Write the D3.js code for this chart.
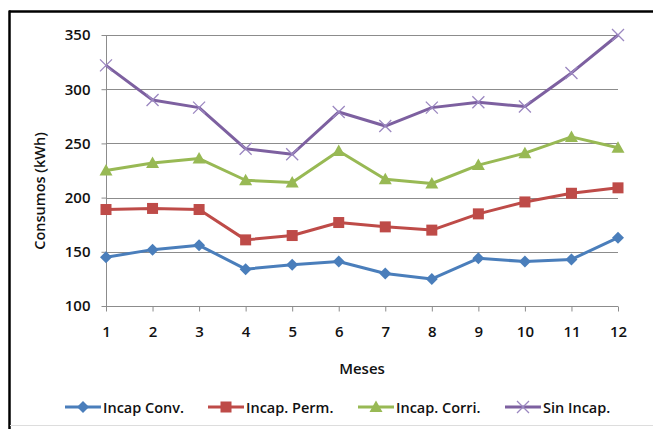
<!DOCTYPE html>
<html>
<head>
<meta charset="utf-8">
<script src="https://cdn.jsdelivr.net/npm/d3@7"></script>
<style>
  html, body { margin: 0; padding: 0; background: #fff; }
  svg { display: block; }
  text { font-family: "Open Sans", Lato, sans-serif; font-weight: 600; fill: #111; }
</style>
</head>
<body>
<svg id="chart" width="653" height="429"></svg>
<script>
// Monthly consumption (kWh) by group
const months = [1, 2, 3, 4, 5, 6, 7, 8, 9, 10, 11, 12];
const incapConv  = [145, 152, 156, 134, 138, 141, 130, 125, 144, 141, 143, 163];
const incapPerm  = [189, 190, 189, 161, 165, 177, 173, 170, 185, 196, 204, 209];
const incapCorri = [225, 232, 236, 216, 214, 243, 217, 213, 230, 241, 256, 246];
const sinIncap   = [322, 290, 283, 245, 240, 279, 266, 283, 288, 284, 315, 350];
const yTicks = [100, 150, 200, 250, 300, 350];

const seriesNames  = ["Incap Conv.", "Incap. Perm.", "Incap. Corri.", "Sin Incap."];
const seriesValues = [incapConv, incapPerm, incapCorri, sinIncap];
const seriesColors = ["#4A7EBB", "#BE4B48", "#98B954", "#7D60A0"];
const seriesMarkers = ["diamond", "square", "triangle", "cross"];

const svg = d3.select("#chart");

// frame
svg.append("line").attr("x1", 9).attr("x2", 653).attr("y1", 11.5).attr("y2", 11.5)
  .attr("stroke", "#000").attr("stroke-width", 2.5);
svg.append("line").attr("x1", 9.5).attr("x2", 9.5).attr("y1", 10.5).attr("y2", 429)
  .attr("stroke", "#000").attr("stroke-width", 2.5);
svg.append("line").attr("x1", 10).attr("x2", 653).attr("y1", 425.5).attr("y2", 425.5)
  .attr("stroke", "#ddd").attr("stroke-width", 1);

const x = d3.scalePoint().domain(months).range([106, 618]);
const y = d3.scaleLinear().domain([100, 350]).range([306, 35]);

// gridlines
svg.append("g").selectAll("line").data(yTicks.filter(d => d > 100)).join("line")
  .attr("x1", 106).attr("x2", 618)
  .attr("y1", d => Math.round(y(d)) + 0.5).attr("y2", d => Math.round(y(d)) + 0.5)
  .attr("stroke", "#8c8c8c").attr("stroke-width", 1);

// y axis
const yAxis = svg.append("g").attr("transform", "translate(106.5,0)")
  .call(d3.axisLeft(y).tickValues(yTicks).tickSize(5).tickPadding(11).tickFormat(d3.format("d")));
yAxis.select(".domain").attr("stroke", "#8c8c8c").attr("d", "M0,35V306");
yAxis.selectAll(".tick line").attr("stroke", "#8c8c8c");
yAxis.selectAll(".tick text").style("font-size", "15px").attr("fill", "#111");

// x axis
const xAxis = svg.append("g").attr("transform", "translate(0,306.5)")
  .call(d3.axisBottom(x).tickSize(5).tickPadding(15));
xAxis.select(".domain").attr("stroke", "#8c8c8c").attr("d", "M106,0H618");
xAxis.selectAll(".tick line").attr("stroke", "#8c8c8c");
xAxis.selectAll(".tick text").style("font-size", "15px").attr("fill", "#111");

// axis titles
svg.append("text").attr("x", 362).attr("y", 374).attr("text-anchor", "middle")
  .style("font-size", "15px").text("Meses");
svg.append("text").attr("transform", "translate(45,191) rotate(-90)")
  .attr("text-anchor", "middle").style("font-size", "14.5px").text("Consumos (kWh)");

function drawMarker(g, type, color, cx, cy) {
  if (type === "diamond") {
    g.append("path").attr("d", `M${cx},${cy - 6}L${cx + 6},${cy}L${cx},${cy + 6}L${cx - 6},${cy}Z`)
      .attr("fill", color);
  } else if (type === "square") {
    g.append("rect").attr("x", cx - 5.5).attr("y", cy - 5.5).attr("width", 11).attr("height", 11)
      .attr("fill", color);
  } else if (type === "triangle") {
    g.append("path").attr("d", `M${cx},${cy - 6.5}L${cx + 6.5},${cy + 5}L${cx - 6.5},${cy + 5}Z`)
      .attr("fill", color);
  } else {
    g.append("path").attr("d", `M${cx - 6},${cy - 6}L${cx + 6},${cy + 6}M${cx + 6},${cy - 6}L${cx - 6},${cy + 6}`)
      .attr("stroke", "#9b87c0").attr("stroke-width", 1.3).attr("fill", "none");
  }
}

const line = d3.line().x((d, i) => x(months[i])).y(d => y(d));

seriesValues.forEach((vals, s) => {
  const g = svg.append("g");
  g.append("path").datum(vals).attr("d", line)
    .attr("fill", "none").attr("stroke", seriesColors[s]).attr("stroke-width", 3)
    .attr("stroke-linejoin", "round");
  vals.forEach((v, i) => drawMarker(g, seriesMarkers[s], seriesColors[s], x(months[i]), y(v)));
});

// legend
const legendX = [65, 208, 358, 505];
seriesNames.forEach((name, s) => {
  const g = svg.append("g");
  const lx = legendX[s], ly = 407;
  g.append("line").attr("x1", lx).attr("x2", lx + 36).attr("y1", ly).attr("y2", ly)
    .attr("stroke", seriesColors[s]).attr("stroke-width", 3);
  drawMarker(g, seriesMarkers[s], seriesColors[s], lx + 18, ly);
  g.append("text").attr("x", lx + 38).attr("y", ly + 5.5).style("font-size", "14.5px").text(name);
});
</script>
</body>
</html>
